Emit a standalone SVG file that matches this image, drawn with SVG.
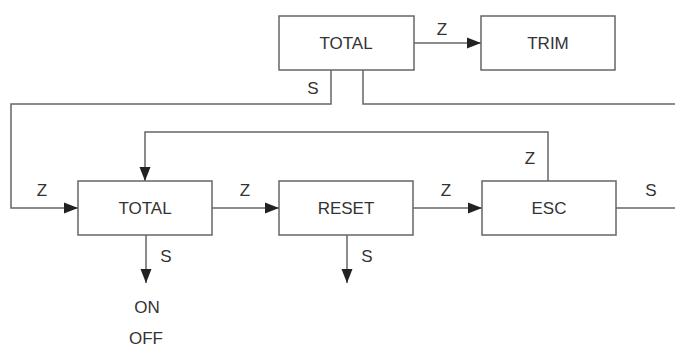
<svg xmlns="http://www.w3.org/2000/svg" width="675" height="347" viewBox="0 0 675 347">
<defs>
<marker id="ah" markerWidth="14" markerHeight="12" refX="14" refY="6" orient="auto" markerUnits="userSpaceOnUse">
<path d="M0,0.5 L14,6 L0,11.5 Z" fill="#222"/>
</marker>
<style>
.box{fill:#fff;stroke:#666;stroke-width:1.5}
.ln{fill:none;stroke:#666;stroke-width:1.5}
.t{font-family:"Liberation Sans",Arial,sans-serif;font-size:17px;fill:#333;text-anchor:middle;dominant-baseline:central}
.l{font-family:"Liberation Sans",Arial,sans-serif;font-size:17px;fill:#333;text-anchor:middle;dominant-baseline:central}
</style>
</defs>
<rect width="675" height="347" fill="#fff"/>
<g id="connectors">
<path class="ln" d="M414,43 H481" marker-end="url(#ah)"/>
<path class="ln" d="M331,70 V104 H11 V208 H78" marker-end="url(#ah)"/>
<path class="ln" d="M363,70 V104 H675"/>
<path class="ln" d="M548,181 V132 H145 V181" marker-end="url(#ah)"/>
<path class="ln" d="M212,208 H279" marker-end="url(#ah)"/>
<path class="ln" d="M413,208 H482" marker-end="url(#ah)"/>
<path class="ln" d="M616,208 H675"/>
<path class="ln" d="M146,235 V283" marker-end="url(#ah)"/>
<path class="ln" d="M347,235 V283" marker-end="url(#ah)"/>
<text class="l" x="442" y="29">Z</text>
<text class="l" x="313" y="88">S</text>
<text class="l" x="42" y="190">Z</text>
<text class="l" x="245" y="190">Z</text>
<text class="l" x="446" y="190">Z</text>
<text class="l" x="530" y="158">Z</text>
<text class="l" x="651" y="190">S</text>
<text class="l" x="166" y="256">S</text>
<text class="l" x="367" y="256">S</text>
<text class="l" x="147" y="307">ON</text>
<text class="l" x="146" y="338">OFF</text>
</g>
<g id="total-top"><rect class="box" x="279" y="16" width="135" height="54"/><text class="t" x="346" y="43">TOTAL</text></g>
<g id="trim"><rect class="box" x="481" y="16" width="134" height="54"/><text class="t" x="548" y="43">TRIM</text></g>
<g id="total"><rect class="box" x="78" y="181" width="134" height="54"/><text class="t" x="145" y="208">TOTAL</text></g>
<g id="reset"><rect class="box" x="279" y="181" width="134" height="54"/><text class="t" x="346" y="208">RESET</text></g>
<g id="esc"><rect class="box" x="482" y="181" width="134" height="54"/><text class="t" x="549" y="208">ESC</text></g>
</svg>
